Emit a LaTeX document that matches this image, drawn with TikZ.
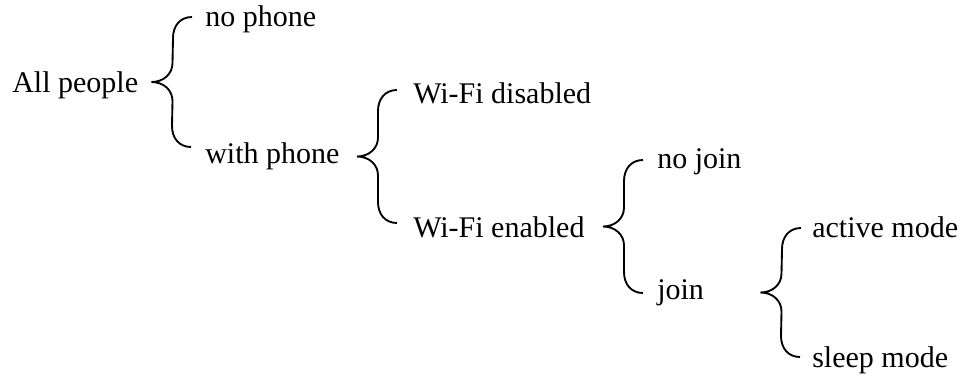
\documentclass[tikz,border=0pt]{standalone}
\usepackage{fontspec}
\setmainfont{Liberation Serif}
\usetikzlibrary{calc}

\begin{document}
\begin{tikzpicture}[x=0.75pt, y=-0.75pt,
    lbl/.style={anchor=base west, inner sep=0pt, font=\fontsize{22.5}{26}\selectfont},
    curly/.style={line width=1.4pt, to path={
      .. controls +(-12,0) and +(0,-12) .. ($(\tikztostart)+(-19,21)$)
      -- ($(\tikztostart)!.5!(\tikztotarget)+(-19,-19)$)
      .. controls +(0,11) and +(12,0) .. ($(\tikztostart)!.5!(\tikztotarget)+(-40,0)$)
      .. controls +(12,0) and +(0,-11) .. ($(\tikztostart)!.5!(\tikztotarget)+(-19,19)$)
      -- ($(\tikztotarget)+(-19,-21)$)
      .. controls +(0,12) and +(-12,0) .. (\tikztotarget)}}]
  \useasboundingbox (0,0) rectangle (966,379);
  \node[lbl] (people) at (12,92) {All people};
  \node[lbl] (nophone) at (205,26) {no phone};
  \node[lbl] (withphone) at (205,163) {with phone};
  \node[lbl] (wifioff) at (413,103) {Wi-Fi disabled};
  \node[lbl] (wifion) at (413,237) {Wi-Fi enabled};
  \node[lbl] (nojoin) at (657,168) {no join};
  \node[lbl] (join) at (657,299) {join};
  \node[lbl] (active) at (812,237) {active mode};
  \node[lbl] (sleep) at (812,367) {sleep mode};
  \coordinate (b1t) at ([shift={(-13,-9)}]nophone.base west);
  \coordinate (b1b) at ([shift={(-14,-16)}]withphone.base west);
  \coordinate (b2t) at ([shift={(-16,-13)}]wifioff.base west);
  \coordinate (b2b) at ([shift={(-16,-14)}]wifion.base west);
  \coordinate (b3t) at ([shift={(-14,-8)}]nojoin.base west);
  \coordinate (b3b) at ([shift={(-14,-6)}]join.base west);
  \coordinate (b4t) at ([shift={(-11,-9)}]active.base west);
  \coordinate (b4b) at ([shift={(-12,-10)}]sleep.base west);
  \draw[curly] (b1t) to (b1b);
  \draw[curly] (b2t) to (b2b);
  \draw[curly] (b3t) to (b3b);
  \draw[curly] (b4t) to (b4b);
\end{tikzpicture}
\end{document}
